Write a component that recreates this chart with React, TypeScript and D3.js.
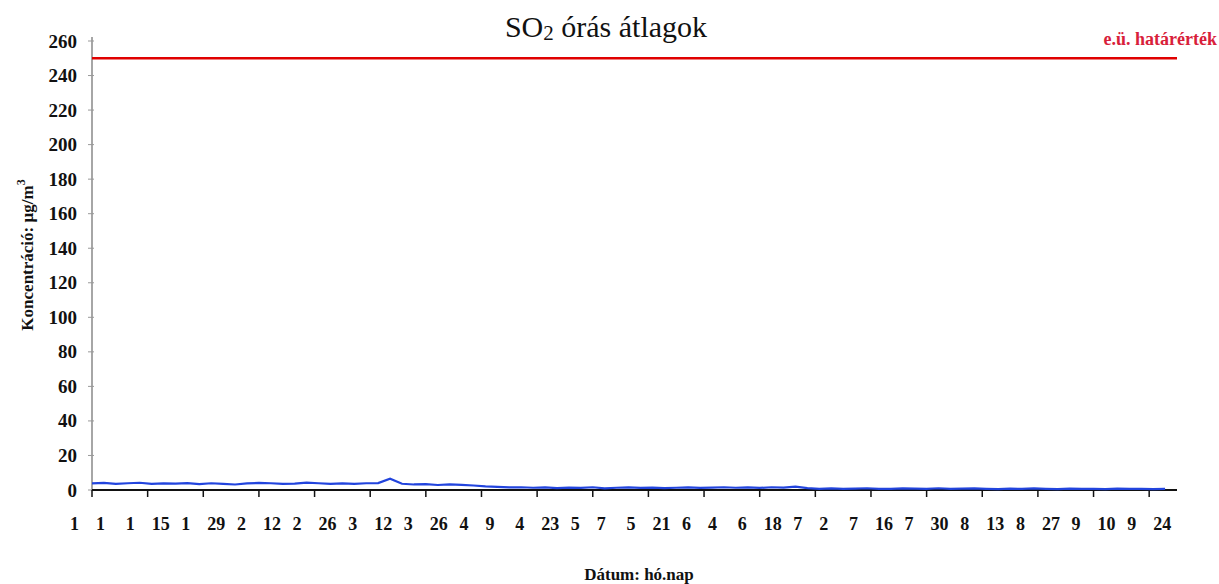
import React from "react";
import * as d3 from "d3";

const title = "SO₂ órás átlagok";
const yTitle = "Koncentráció: µg/m";
const xTitle = "Dátum: hó.nap";
const limitLabel = "e.ü. határérték";
const limitValue = 250;

const yTicks = [0, 20, 40, 60, 80, 100, 120, 140, 160, 180, 200, 220, 240, 260];
// tick labels month / day, every 14 days from Jan 1
const tickMonths = [1, 1, 1, 2, 2, 3, 3, 4, 4, 5, 5, 6, 6, 7, 7, 7, 8, 8, 9, 9];
const tickDays = [1, 15, 29, 12, 26, 12, 26, 9, 23, 7, 21, 4, 18, 2, 16, 30, 13, 27, 10, 24];
const tickDayIndex = [0, 14, 28, 42, 56, 70, 84, 98, 112, 126, 140, 154, 168, 182, 196, 210, 224, 238, 252, 266];

// SO2 concentration read every 3 days (µg/m3)
const so2Values = [
  3.8, 4.1, 3.6, 3.9, 4.2, 3.5, 3.8, 3.7, 4.0, 3.4, 3.9, 3.6, 3.2, 3.8, 4.1, 3.9, 3.5, 3.7, 4.3, 3.9,
  3.6, 3.8, 3.5, 3.9, 4.0,
  6.5,
  3.6, 3.2, 3.4, 2.9, 3.3, 3.0,
  2.6, 2.1, 1.8, 1.5, 1.6,
  1.3, 1.5, 1.1, 1.4, 1.2, 1.6, 1.0, 1.3, 1.5, 1.2, 1.4, 1.1, 1.3, 1.5, 1.2, 1.4, 1.6, 1.3, 1.5,
  1.2, 1.6, 1.4, 2.0,
  1.1, 0.7, 0.9, 0.6, 0.8, 1.0, 0.7, 0.6, 0.9, 0.8, 0.7, 1.0, 0.6, 0.8, 0.9, 0.7, 0.5, 0.8, 0.6,
  0.9, 0.7, 0.5, 0.8, 0.6, 0.7, 0.5, 0.8, 0.6, 0.7, 0.5, 0.6,
];
const stepDays = 3;
const totalDays = 273;

export default function App() {
  const W = 1219, H = 584;
  const left = 92, right = 1177, top = 41, bottom = 490;
  const x = d3.scaleLinear().domain([0, totalDays]).range([left, right]);
  const y = d3.scaleLinear().domain([0, 260]).range([bottom, top]);
  const line = d3
    .line<number>()
    .x((_, i) => x(i * stepDays))
    .y((v) => y(v));
  const font = "Liberation Serif, DejaVu Serif, serif";

  return (
    <svg width={W} height={H} style={{ position: "absolute", left: 0, top: 0, background: "#fff" }}>
      <rect width={W} height={H} fill="#fff" />
      {/* title */}
      <text x={606} y={37} textAnchor="middle" fontFamily={font} fontSize={30} fill="#111">
        SO<tspan fontSize={21} dy={3}>2</tspan>
        <tspan dy={-3}> órás átlagok</tspan>
      </text>
      {/* y axis */}
      <line x1={left} x2={left} y1={top - 4} y2={bottom} stroke="#888" strokeWidth={1.5} />
      {yTicks.map((t) => (
        <g key={t}>
          <line x1={left - 4} x2={left + 2} y1={y(t)} y2={y(t)} stroke="#999" strokeWidth={1} />
          <text x={77} y={y(t) + 6.5} textAnchor="end" fontFamily={font} fontSize={19} fontWeight="bold" fill="#111">
            {t}
          </text>
        </g>
      ))}
      {/* y title */}
      <text
        transform={`translate(33, 255) rotate(-90)`}
        textAnchor="middle"
        fontFamily={font}
        fontSize={17}
        fontWeight="bold"
        fill="#111"
      >
        {yTitle}
        <tspan fontSize={12} dy={-8}>3</tspan>
      </text>
      {/* x axis */}
      <line x1={left} x2={right} y1={bottom} y2={bottom} stroke="#111" strokeWidth={2} />
      {tickDayIndex.map((d, i) => (
        <g key={d}>
          <line x1={x(d)} x2={x(d)} y1={bottom} y2={bottom + 7} stroke="#111" strokeWidth={1.5} />
          <text x={x(d) - 13} y={530} textAnchor="end" fontFamily={font} fontSize={18} fontWeight="bold" fill="#111">
            {tickMonths[i]}
          </text>
          <text x={x(d) + 4} y={530} textAnchor="start" fontFamily={font} fontSize={18} fontWeight="bold" fill="#111">
            {tickDays[i]}
          </text>
        </g>
      ))}
      <text x={639} y={580} textAnchor="middle" fontFamily={font} fontSize={17} fontWeight="bold" fill="#111">
        {xTitle}
      </text>
      {/* limit line */}
      <line x1={left} x2={right} y1={y(limitValue)} y2={y(limitValue)} stroke="#e00000" strokeWidth={2.5} />
      <text x={1217} y={45} textAnchor="end" fontFamily={font} fontSize={18} fontWeight="bold" fill="#d8203a">
        {limitLabel}
      </text>
      {/* SO2 series */}
      <path d={line(so2Values) || ""} fill="none" stroke="#2244dd" strokeWidth={2.2} />
    </svg>
  );
}
